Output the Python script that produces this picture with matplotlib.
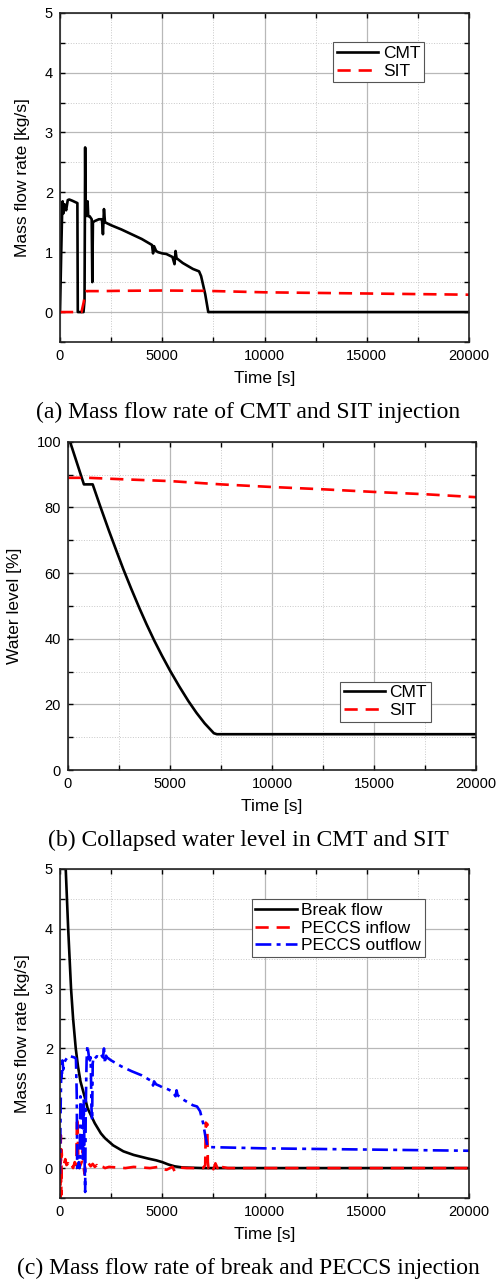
import matplotlib.pyplot as plt
from matplotlib.ticker import MultipleLocator

plt.rcParams['font.family'] = ['Liberation Sans', 'DejaVu Sans']

# (a) CMT and SIT injection flow [kg/s]
t_cmt_a = [0, 30, 60, 100, 130, 170, 220, 300, 380, 450, 600, 850, 870, 1150, 1200,
           1230, 1250, 1290, 1330, 1350, 1380, 1450, 1550, 1580, 1610, 1700, 1900,
           2050, 2100, 2150, 2200, 2500, 3000, 3500, 4000, 4500, 4550, 4600, 4700,
           4800, 5000, 5200, 5500, 5600, 5650, 5700, 6000, 6500, 6800, 6900, 7000,
           7100, 7200, 7250, 20000]
m_cmt_a = [0, 0.5, 1.0, 1.6, 1.85, 1.65, 1.8, 1.7, 1.87, 1.88, 1.86, 1.82, 0, 0, 0.2,
           2.75, 1.6, 1.7, 1.65, 1.85, 1.6, 1.6, 1.55, 0.5, 1.5, 1.52, 1.55,
           1.55, 1.3, 1.72, 1.5, 1.45, 1.38, 1.3, 1.22, 1.12, 0.98, 1.1, 1.02,
           1.0, 0.98, 0.97, 0.92, 0.8, 1.02, 0.9, 0.82, 0.72, 0.68, 0.6, 0.45,
           0.3, 0.1, 0, 0]
t_sit_a = [0, 1050, 1150, 1250, 1300, 2000, 3000, 5000, 7000, 10000, 15000, 20000]
m_sit_a = [0, 0, 0.15, 0.33, 0.35, 0.35, 0.355, 0.36, 0.355, 0.33, 0.31, 0.29]

# (b) collapsed water level [%]
t_cmt_b = [0, 100, 780, 1210, 1570, 2000, 2400, 2710, 3100, 3500, 3850, 4230, 4600,
           5000, 5450, 5900, 6300, 6700, 7000, 7150, 7300, 20000]
lv_cmt_b = [100, 100, 87, 87, 80.5, 73, 66.3, 61.2, 55.2, 49.3, 44.4, 39.4, 34.9,
            30.3, 25.5, 21, 17.4, 14.2, 12.2, 11.2, 10.9, 10.9]
t_sit_b = [0, 1000, 2500, 5000, 7500, 10000, 12500, 15000, 17500, 20000]
lv_sit_b = [89, 89, 88.6, 88, 87, 86.2, 85.5, 84.7, 84, 83.1]

# (c) break flow and PECCS [kg/s]
t_brk = [0, 80, 160, 240, 280, 340, 400, 470, 540, 640, 770, 880, 1000, 1200, 1350,
         1700, 2000, 2200, 2600, 3100, 3600, 4300, 4700, 5000, 5300, 5600, 6000,
         7000, 20000]
m_brk = [14, 10, 7.5, 5.6, 5.0, 4.5, 4.0, 3.5, 3.0, 2.5, 2.0, 1.7, 1.45, 1.2, 1.0,
         0.75, 0.58, 0.5, 0.38, 0.28, 0.22, 0.16, 0.13, 0.1, 0.06, 0.03, 0.01,
         0.0, 0.0]
t_in = [0, 20, 40, 60, 80, 100, 140, 200, 260, 320, 400, 480, 560, 640, 720, 800,
        830, 860, 900, 940, 1000, 1060, 1120, 1160, 1200, 1240, 1300, 1400, 1500,
        1600, 1700, 1800, 1900, 2000, 2100, 2200, 2400, 2800, 3200, 3600, 4000,
        4400, 4800, 5200, 5500, 5600, 5800, 6200, 6600, 7000, 7100, 7130, 7160,
        7200, 7230, 7260, 7400, 7500, 7600, 7700, 7800, 7900, 8200, 10000, 15000,
        20000]
m_in = [0, -0.5, 0.55, -0.45, 0.3, 0.15, 0.12, 0.08, 0.15, 0.05, 0.08, 0.02, 0.06,
        0.0, 0.1, 0.05, 0.85, 0.75, 0.05, 0.0, 0.05, 0.1, 0.3, 0.0, -0.1, 0.05,
        0.02, 0.08, 0.03, 0.07, 0.02, 0.05, 0.0, 0.03, 0.02, 0.0, 0.02, 0.01, 0.0,
        0.02, 0.01, 0.0, 0.02, -0.03, 0.02, -0.05, 0.01, 0.0, 0.0, 0.0, 0.05, 0.76,
        0.7, 0.74, 0.1, 0.0, 0.05, -0.02, 0.08, 0.0, 0.07, 0.02, 0.0, 0.0, 0.0, 0.0]
t_out = [0, 30, 60, 90, 120, 160, 200, 260, 320, 400, 500, 600, 700, 780, 820, 840,
         880, 920, 960, 1000, 1040, 1080, 1120, 1160, 1200, 1230, 1260, 1300, 1340,
         1380, 1420, 1460, 1500, 1540, 1570, 1600, 1640, 1700, 1800, 1900, 2000,
         2100, 2150, 2200, 2250, 2300, 2500, 3000, 3500, 4000, 4500, 4550, 4600,
         4700, 4900, 5000, 5200, 5500, 5650, 5700, 5750, 6000, 6500, 6700, 6850,
         7000, 7100, 7200, 7250, 7400, 10000, 15000, 20000]
m_out = [-0.1, 1.0, 1.6, 1.5, 1.8, 1.65, 1.75, 1.8, 1.83, 1.87, 1.87, 1.86, 1.85,
         1.83, 1.2, 0.0, -0.05, 0.1, 0.0, 1.2, 1.0, 0.8, 0.1, 1.15, 0.2, -0.4, 1.0,
         1.8, 2.05, 1.95, 1.85, 1.8, 1.85, 1.0, 0.8, 1.75, 1.85, 1.83, 1.87, 1.85,
         1.9, 1.85, 2.0, 1.75, 1.88, 1.85, 1.8, 1.7, 1.62, 1.55, 1.45, 1.38, 1.45,
         1.4, 1.37, 1.35, 1.33, 1.28, 1.2, 1.3, 1.22, 1.15, 1.05, 1.03, 0.95, 0.75,
         0.55, 0.38, 0.35, 0.35, 0.33, 0.31, 0.29]

W, H = 497, 1280
fig = plt.figure(figsize=(W / 100, H / 100), dpi=100)


def make_ax(left, top, right, bottom):
    return fig.add_axes([left / W, 1 - bottom / H, (right - left) / W, (bottom - top) / H])


def style(ax, ymin, ymax, ymaj, ylabel, ylab_x):
    ax.set_xlim(0, 20000)
    ax.set_ylim(ymin, ymax)
    ax.xaxis.set_major_locator(MultipleLocator(5000))
    ax.xaxis.set_minor_locator(MultipleLocator(2500))
    ax.yaxis.set_major_locator(MultipleLocator(ymaj))
    ax.yaxis.set_minor_locator(MultipleLocator(ymaj / 2))
    ax.tick_params(which='both', direction='in', top=True, right=True,
                   length=3.5, width=1, labelsize=10.5, pad=5)
    ax.grid(which='major', color='#b8b8b8', lw=0.9, ls='-')
    ax.grid(which='minor', color='#c8c8c8', lw=0.7, ls=':')
    ax.set_axisbelow(True)
    for s in ax.spines.values():
        s.set_linewidth(1.2)
        s.set_color('#222222')
    ax.set_xlabel('Time [s]', fontsize=12.5)
    ax.set_ylabel(ylabel, fontsize=12.5)
    ax.xaxis.set_label_coords(0.5, -0.088)
    ax.yaxis.set_label_coords(ylab_x, 0.5)


def legend(ax, x, y):
    lg = ax.legend(loc='upper left', bbox_to_anchor=(x, y), fontsize=12.5,
                   fancybox=False, framealpha=1, edgecolor='#555555',
                   handlelength=2.4, handletextpad=0.25, borderpad=0.2,
                   labelspacing=0.15, borderaxespad=0)
    lg.get_frame().set_linewidth(0.8)


cap = dict(ha='center', va='center', fontsize=17, family='Liberation Serif')
LW = 1.9

# (a)
ax1 = make_ax(60, 12.7, 469, 342)
ax1.plot(t_cmt_a, m_cmt_a, color='black', lw=LW, label='CMT')
ax1.plot(t_sit_a, m_sit_a, color='red', lw=LW, ls=(0, (5, 3)), label='SIT')
style(ax1, -0.5, 5, 1, 'Mass flow rate [kg/s]', -0.073)
legend(ax1, 0.668, 0.91)
fig.text(0.5, 1 - 412 / H, '(a) Mass flow rate of CMT and SIT injection', **cap)

# (b)
ax2 = make_ax(68, 441.7, 476, 770)
ax2.plot(t_cmt_b, lv_cmt_b, color='black', lw=LW, label='CMT')
ax2.plot(t_sit_b, lv_sit_b, color='red', lw=LW, ls=(0, (5, 3)), label='SIT')
style(ax2, 0, 100, 20, 'Water level [%]', -0.113)
legend(ax2, 0.667, 0.269)
fig.text(0.5, 1 - 840 / H, '(b) Collapsed water level in CMT and SIT', **cap)

# (c)
ax3 = make_ax(60, 869, 469, 1198)
ax3.plot(t_brk, m_brk, color='black', lw=LW, label='Break flow')
ax3.plot(t_in, m_in, color='red', lw=LW, ls=(0, (5, 3)), label='PECCS inflow')
ax3.plot(t_out, m_out, color='blue', lw=LW, ls=(0, (6, 2, 1.5, 2)), label='PECCS outflow')
style(ax3, -0.5, 5, 1, 'Mass flow rate [kg/s]', -0.073)
legend(ax3, 0.469, 0.908)
fig.text(0.5, 1 - 1268 / H, '(c) Mass flow rate of break and PECCS injection', **cap)

fig.savefig('out.png', dpi=100, facecolor='white')
